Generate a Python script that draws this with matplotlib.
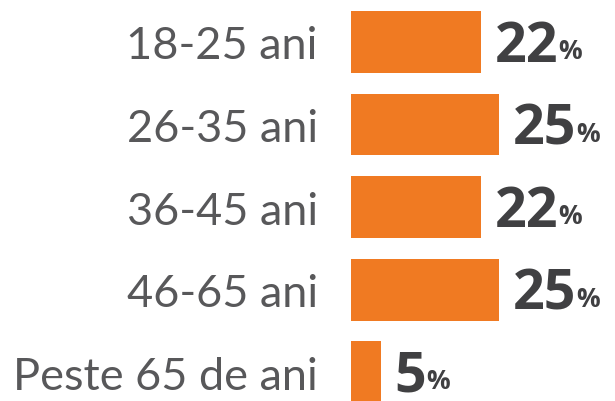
import matplotlib.pyplot as plt

# Age groups and share of respondents (%)
categories = ["18-25 ani", "26-35 ani", "36-45 ani", "46-65 ani", "Peste 65 de ani"]
values = [22, 25, 22, 25, 5]

bar_color = "#F07A22"
num_color = "#404042"
label_color = "#58585A"

fig = plt.figure(figsize=(6.15, 4.02), dpi=100)
ax = fig.add_axes([351 / 615, 0, 264 / 615, 1])

pos = list(range(len(categories)))
ax.barh(pos, values, height=0.75, color=bar_color)

ax.set_ylim(4.35, -0.521)
ax.set_xlim(0, 44.7)

ax.set_yticks(pos)
ax.set_yticklabels(categories, fontsize=32.5, color=label_color, family="Lato")
ax.tick_params(axis="y", length=0, pad=24)
ax.tick_params(axis="x", bottom=False, labelbottom=False)
for s in ax.spines.values():
    s.set_visible(False)

# Value labels: big bold number followed by a smaller percent sign
for p, v in zip(pos, values):
    t = ax.annotate(str(v), xy=(v, p), xytext=(10, -3), textcoords="offset points",
                    ha="left", va="center", fontsize=40, fontweight="bold",
                    color=num_color, family="Open Sans")
    ax.annotate("%", xy=(1, 0.17), xycoords=t, xytext=(0, 0), textcoords="offset points",
                ha="left", va="bottom", fontsize=19, fontweight="bold",
                color=num_color, family="Open Sans")

fig.savefig("out.png", dpi=100)
